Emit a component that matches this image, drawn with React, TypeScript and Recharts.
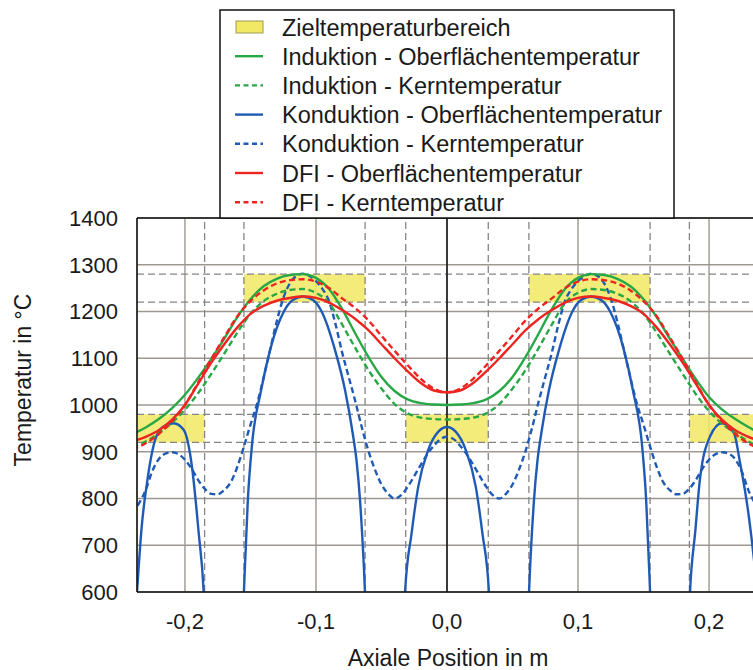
import React from 'react';
import {
  LineChart, Line, XAxis, YAxis, CartesianGrid, ReferenceArea, ReferenceLine,
} from 'recharts';

const FONT = '"Liberation Sans", Arial, Helvetica, sans-serif';

// axial position in mm, 10 mm steps (smooth curves)
const posMain = [
  -240, -230, -220, -210, -200, -190, -180, -170, -160, -150, -140, -130, -120,
  -110, -100, -90, -80, -70, -60, -50, -40, -30, -20, -10, 0,
  10, 20, 30, 40, 50, 60, 70, 80, 90, 100, 110, 120, 130, 140, 150, 160, 170,
  180, 190, 200, 210, 220, 230, 240,
];

const indSurface = [
  938, 952, 970, 993, 1022, 1058, 1098, 1142, 1188, 1226, 1254, 1270, 1278,
  1280, 1272, 1248, 1205, 1153, 1103, 1060, 1030, 1012, 1004, 1001, 1000,
  1001, 1004, 1012, 1030, 1060, 1103, 1153, 1205, 1248, 1272, 1280, 1278, 1270,
  1254, 1226, 1188, 1142, 1098, 1055, 1017, 990, 970, 953, 938,
];
const indCore = [
  910, 922, 940, 962, 990, 1025, 1066, 1110, 1155, 1195, 1222, 1238, 1246,
  1248, 1240, 1218, 1172, 1122, 1075, 1035, 1002, 982, 973, 970, 969,
  970, 973, 982, 1002, 1035, 1075, 1122, 1172, 1218, 1240, 1248, 1246, 1238,
  1222, 1195, 1155, 1110, 1066, 1023, 987, 960, 940, 922, 910,
];
const dfiSurface = [
  922, 932, 946, 968, 1000, 1045, 1090, 1130, 1166, 1195, 1212, 1223, 1229,
  1232, 1229, 1219, 1203, 1184, 1160, 1130, 1100, 1072, 1047, 1031, 1027,
  1031, 1047, 1072, 1100, 1130, 1160, 1184, 1203, 1219, 1229, 1232, 1229, 1223,
  1212, 1195, 1166, 1130, 1090, 1045, 1000, 968, 946, 932, 922,
];
const dfiCore = [
  905, 918, 938, 965, 1000, 1048, 1098, 1145, 1190, 1222, 1245, 1260, 1267,
  1269, 1264, 1250, 1228, 1207, 1181, 1148, 1116, 1085, 1056, 1035, 1027,
  1035, 1056, 1085, 1116, 1148, 1181, 1207, 1228, 1250, 1264, 1269, 1267, 1260,
  1245, 1222, 1190, 1145, 1098, 1048, 1000, 965, 938, 918, 905,
];

// 5 mm steps for the conduction core curve
const posCondCore = [
  -240, -235, -230, -225, -220, -215, -210, -205, -200, -195, -190, -185, -180,
  -175, -170, -165, -160, -155, -150, -145, -140, -135, -130, -125, -120, -115,
  -110, -105, -100, -95, -90, -85, -80, -75, -70, -65, -60, -55, -50, -45, -40,
  -35, -30, -25, -20, -15, -10, -5, 0,
  5, 10, 15, 20, 25, 30, 35, 40, 45, 50, 55, 60, 65, 70, 75, 80, 85, 90, 95,
  100, 105, 110, 115, 120, 125, 130, 135, 140, 145, 150, 155, 160, 165, 170,
  175, 180, 185, 190, 195, 200, 205, 210, 215, 220, 225, 230, 235, 240,
];
const condCore = [
  768, 790, 818, 858, 884, 896, 899, 895, 883, 864, 840, 821, 810, 809, 818,
  835, 868, 911, 958, 1002, 1058, 1118, 1178, 1228, 1260, 1276, 1281, 1276,
  1265, 1248, 1222, 1172, 1112, 1060, 1008, 952, 902, 862, 830, 810, 800, 807,
  825, 848, 872, 895, 913, 927, 932,
  927, 913, 895, 872, 848, 825, 807, 800, 810, 830, 862, 902, 952, 1008, 1060,
  1112, 1172, 1222, 1248, 1265, 1276, 1281, 1276, 1260, 1228, 1178, 1118, 1058,
  1002, 958, 911, 868, 835, 818, 809, 810, 821, 840, 864, 883, 895, 899, 896,
  884, 858, 818, 790, 768,
];

// conduction surface: steep arches that dive below the axis
const posCondSurface = [
  -245, -236.6, -233, -229, -222.7, -216.3, -208.7, -201, -194.7, -189.5,
  -185.7, -182, -159, -155, -152, -149, -142, -135, -124.5, -118, -110, -102,
  -95.7, -85.5, -77.9, -72, -69, -66.4, -62.6, -59, -35, -32, -27, -21.9,
  -14.3, -6.6, 0, 6.6, 14.3, 21.9, 27, 32, 35, 59, 62.6, 66.4, 69, 72, 77.9,
  85.5, 95.7, 102, 110, 118, 124.5, 135, 142, 149, 152, 155, 159, 182, 185.5,
  189.5, 193, 200.8, 209.7, 219, 223.7, 230, 236.6, 245,
];
const condSurface = [
  200, 600, 740, 833, 926, 954, 961, 947, 869, 726,
  600, 300, 300, 600, 797, 910, 1030, 1118, 1200, 1224, 1232, 1224,
  1200, 1118, 1033, 940, 880, 797, 600, 300, 300, 600, 726, 826,
  904, 943, 953, 943, 904, 826, 726, 600, 300, 300, 600, 797, 880, 940, 1033,
  1118, 1200, 1224, 1232, 1224, 1200, 1118, 1030, 910, 797, 600, 300, 300, 600,
  730, 840, 933, 961, 940, 876, 769, 600, 200,
];

// target temperature windows
const lowBand = [920, 980];
const highBand = [1220, 1280];
const lowZonesX = [[-0.25, -0.185], [-0.0315, 0.0315], [0.185, 0.25]];
const highZonesX = [[-0.155, -0.0625], [0.0625, 0.155]];
const zoneEdgesX = [-0.185, -0.155, -0.0625, -0.0315, 0.0315, 0.0625, 0.155, 0.185];

const xTicks = [-0.2, -0.1, 0, 0.1, 0.2];
const yTicks = [600, 700, 800, 900, 1000, 1100, 1200, 1300, 1400];

const GREEN = '#27a844';
const BLUE = '#1f5bb5';
const RED = '#ee2420';
const YELLOW = '#f1e863';

const toRows = (pos: number[], vals: number[]) =>
  pos.map((p, i) => ({ x: p / 1000, t: vals[i] }));

const series = [
  { name: 'Konduktion - Kerntemperatur', rows: toRows(posCondCore, condCore), color: BLUE, dashed: true },
  { name: 'Konduktion - Oberflächentemperatur', rows: toRows(posCondSurface, condSurface), color: BLUE, dashed: false },
  { name: 'Induktion - Kerntemperatur', rows: toRows(posMain, indCore), color: GREEN, dashed: true },
  { name: 'Induktion - Oberflächentemperatur', rows: toRows(posMain, indSurface), color: GREEN, dashed: false },
  { name: 'DFI - Kerntemperatur', rows: toRows(posMain, dfiCore), color: RED, dashed: true },
  { name: 'DFI - Oberflächentemperatur', rows: toRows(posMain, dfiSurface), color: RED, dashed: false },
];

const legendItems = [
  { label: 'Zieltemperaturbereich', kind: 'area', color: YELLOW },
  { label: 'Induktion - Oberflächentemperatur', kind: 'solid', color: GREEN },
  { label: 'Induktion - Kerntemperatur', kind: 'dashed', color: GREEN },
  { label: 'Konduktion - Oberflächentemperatur', kind: 'solid', color: BLUE },
  { label: 'Konduktion - Kerntemperatur', kind: 'dashed', color: BLUE },
  { label: 'DFI - Oberflächentemperatur', kind: 'solid', color: RED },
  { label: 'DFI - Kerntemperatur', kind: 'dashed', color: RED },
];

const fmtX = (v: number) => v.toFixed(1).replace('.', ',');

const Overlay: React.FC = () => (
  <svg width={753} height={670} style={{ position: 'absolute', left: 0, top: 0, pointerEvents: 'none' }}>
    <rect x={220} y={10} width={454} height={208} fill="#fff" stroke="#111" strokeWidth={1.5} />
    {legendItems.map((item, i) => {
      const cy = 27 + i * 29.2;
      return (
        <g key={item.label}>
          {item.kind === 'area' ? (
            <rect x={236} y={cy - 6} width={27} height={12} fill={item.color} stroke="#a09a55" strokeWidth={1} />
          ) : (
            <line
              x1={235} x2={263} y1={cy} y2={cy}
              stroke={item.color} strokeWidth={2.4}
              strokeDasharray={item.kind === 'dashed' ? '5 3.5' : undefined}
            />
          )}
          <text x={282} y={cy + 8.5} fontSize={23.5} fontFamily={FONT} fill="#1a1a1a">{item.label}</text>
        </g>
      );
    })}
    <text x={448} y={666} textAnchor="middle" fontSize={23} fontFamily={FONT} fill="#1a1a1a">
      Axiale Position in m
    </text>
    <text
      transform="translate(31 380) rotate(-90)"
      textAnchor="middle" fontSize={23} fontFamily={FONT} fill="#1a1a1a"
    >
      Temperatur in °C
    </text>
  </svg>
);

export default function App() {
  return (
    <div style={{ position: 'fixed', left: 0, top: 0, width: 753, height: 670, overflow: 'hidden', background: '#fff' }}>
      <div style={{ position: 'absolute', left: 0, top: 0 }}>
        <LineChart width={770} height={670} margin={{ top: 218, right: 13, bottom: 38, left: 57 }}>
          {lowZonesX.map(([a, b]) => (
            <ReferenceArea key={`lo${a}`} x1={a} x2={b} y1={lowBand[0]} y2={lowBand[1]}
              fill={YELLOW} fillOpacity={0.85} stroke="none" ifOverflow="hidden" />
          ))}
          {highZonesX.map(([a, b]) => (
            <ReferenceArea key={`hi${a}`} x1={a} x2={b} y1={highBand[0]} y2={highBand[1]}
              fill={YELLOW} fillOpacity={0.85} stroke="none" ifOverflow="hidden" />
          ))}
          <CartesianGrid stroke="#9d9792" strokeWidth={1.4} />
          {zoneEdgesX.map((x) => (
            <ReferenceLine key={`vx${x}`} x={x} stroke="#858585" strokeWidth={1.3} strokeDasharray="7 4" />
          ))}
          {[...lowBand, ...highBand].map((y) => (
            <ReferenceLine key={`hy${y}`} y={y} stroke="#858585" strokeWidth={1.3} strokeDasharray="7 4" />
          ))}
          <ReferenceLine x={0} stroke="#111" strokeWidth={1.5} />
          <ReferenceLine y={1400} stroke="#111" strokeWidth={1.5} />
          <XAxis
            type="number" dataKey="x" domain={[-0.2366, 0.2366]} allowDataOverflow
            ticks={xTicks} tickFormatter={fmtX} height={40}
            axisLine={{ stroke: '#111', strokeWidth: 1.5 }} tickLine={false} tickSize={0} tickMargin={21}
            tick={{ fill: '#1a1a1a', fontSize: 22, fontFamily: FONT }}
          />
          <YAxis
            type="number" dataKey="t" domain={[600, 1400]} allowDataOverflow
            ticks={yTicks} width={80}
            axisLine={{ stroke: '#111', strokeWidth: 1.5 }} tickLine={false} tickSize={0} tickMargin={19}
            tick={{ fill: '#1a1a1a', fontSize: 22, fontFamily: FONT }}
          />
          {series.map((s) => (
            <Line
              key={s.name} name={s.name} data={s.rows} dataKey="t" type="monotoneX"
              stroke={s.color} strokeWidth={2.4} strokeDasharray={s.dashed ? '6 3.5' : undefined}
              dot={false} activeDot={false} isAnimationActive={false}
            />
          ))}
        </LineChart>
      </div>
      <Overlay />
    </div>
  );
}
